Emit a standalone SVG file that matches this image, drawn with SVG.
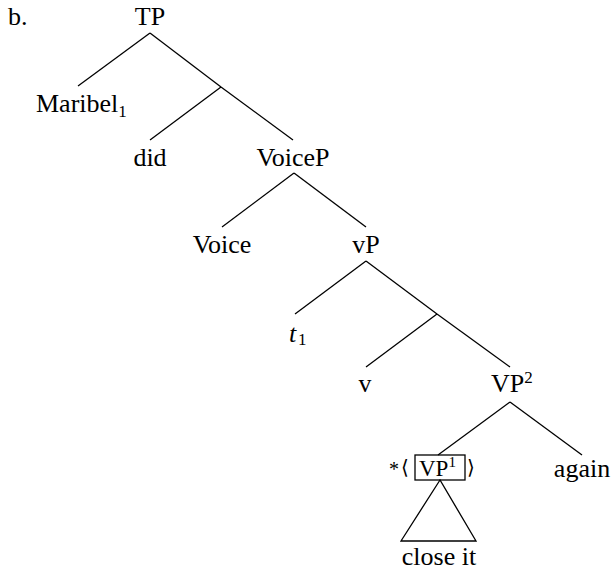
<svg xmlns="http://www.w3.org/2000/svg" width="611" height="570" viewBox="0 0 611 570">
<style>
text{font-family:"Liberation Serif","Times New Roman",serif;font-size:26px;fill:#000}
.m{text-anchor:middle}
.s{font-size:17px}
.ang{font-family:"DejaVu Serif","Liberation Serif",serif;font-size:20px}
.k{stroke:#000;stroke-width:1.3;fill:none}
</style>
<rect x="0" y="0" width="611" height="570" fill="#fff"/>
<text x="8" y="25">b.</text>
<g id="connectors" class="k">
<line x1="150" y1="33" x2="78" y2="86"/>
<line x1="150" y1="33" x2="221" y2="87"/>
<line x1="221" y1="87" x2="150" y2="140"/>
<line x1="221" y1="87" x2="293" y2="140"/>
<line x1="294" y1="173" x2="222" y2="227"/>
<line x1="294" y1="173" x2="366" y2="227"/>
<line x1="366" y1="261" x2="295" y2="314"/>
<line x1="366" y1="261" x2="437" y2="314"/>
<line x1="437" y1="314" x2="366" y2="367"/>
<line x1="437" y1="314" x2="510" y2="367"/>
<line x1="510" y1="402" x2="438" y2="455"/>
<line x1="510" y1="402" x2="582" y2="455"/>
</g>
<g id="TP"><text class="m" x="150" y="25">TP</text></g>
<g id="Maribel"><text x="36" y="112">Maribel<tspan class="s" dy="5">1</tspan></text></g>
<g id="did"><text class="m" x="150" y="166">did</text></g>
<g id="VoiceP"><text class="m" x="293" y="166">VoiceP</text></g>
<g id="Voice"><text class="m" x="222" y="253">Voice</text></g>
<g id="vP"><text class="m" x="366" y="253">vP</text></g>
<g id="t1"><text x="289" y="342" font-style="italic">t</text><text class="s" x="298" y="345">1</text></g>
<g id="v"><text class="m" x="365" y="392">v</text></g>
<g id="VP2"><text x="491" y="392">VP<tspan class="s" dy="-9">2</tspan></text></g>
<g id="VP1">
<text x="389" y="476" style="font-size:20px">*</text>
<text class="ang" x="401" y="474">⟨</text>
<rect class="k" x="415" y="455" width="50" height="25"/>
<text x="419" y="476" style="font-size:23px">VP<tspan class="s" dy="-9" style="font-size:15px">1</tspan></text>
<text class="ang" x="467" y="474">⟩</text>
</g>
<g id="again"><text class="m" x="582" y="477">again</text></g>
<g id="closeit">
<polygon class="k" points="440,480 401,541 476,541"/>
<text class="m" x="439" y="565">close it</text>
</g>
</svg>
